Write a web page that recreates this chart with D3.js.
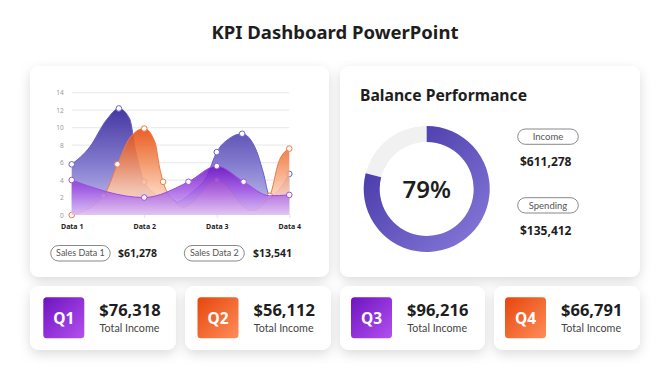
<!DOCTYPE html>
<html><head><meta charset="utf-8">
<script src="https://cdn.jsdelivr.net/npm/d3@7"></script>
<style>
html,body{margin:0;padding:0;background:#fff;}
svg{display:block;font-family:"Noto Sans","Open Sans",sans-serif;}
</style></head>
<body><svg id="c" width="670" height="376"></svg>
<script>
// ---- data ----
const title = "KPI Dashboard PowerPoint";
const categories = ["Data 1", "Data 2", "Data 3", "Data 4"];
const yTicks = [0, 2, 4, 6, 8, 10, 12, 14];
// series positions are in category units (0 = Data 1 ... 3 = Data 4)
const series1X = [0, 0.25, 0.48, 0.65, 0.8, 0.88, 1.0, 1.17, 1.4, 1.7, 1.86, 2.0, 2.18, 2.35, 2.54, 2.64, 2.73, 3.0];
const series1Y = [5.8, 7.8, 10.9, 12.2, 11.0, 7.4, 3.8, 2.3, 1.4, 2.9, 4.4, 7.2, 8.8, 9.3, 7.5, 4.9, 2.2, 4.7];
const series1Marks = [0, 3, 6, 8, 11, 13, 17];
const series2X = [0, 0.44, 0.63, 0.8, 1.0, 1.15, 1.21, 1.26, 1.4, 1.54, 2.0, 2.48, 2.73, 2.86, 3.0];
const series2Y = [0, 2.2, 5.8, 8.8, 9.9, 8.3, 5.5, 3.8, 1.7, 0.9, 4.0, 0.5, 2.2, 6.2, 7.6];
const series2Marks = [0, 1, 2, 4, 7, 10, 12, 14];
const series3X = [0, 1.0, 1.61, 2.0, 2.37, 2.73, 3.0];
const series3Y = [4.0, 2.0, 3.8, 5.6, 3.8, 2.2, 2.3];
const series3Marks = [0, 1, 2, 3, 4, 6];
const legendLabels = ["Sales Data 1", "Sales Data 2"];
const legendValues = ["$61,278", "$13,541"];
const balanceTitle = "Balance Performance";
const balancePct = 79;
const balanceLabels = ["Income", "Spending"];
const balanceValues = ["$611,278", "$135,412"];
const quarters = ["Q1", "Q2", "Q3", "Q4"];
const quarterValues = ["$76,318", "$56,112", "$96,216", "$66,791"];
const quarterCaption = "Total Income";

// ---- drawing ----
const svg = d3.select("#c");
const defs = svg.append("defs");

const f = defs.append("filter").attr("id", "sh").attr("x", "-20%").attr("y", "-20%").attr("width", "140%").attr("height", "150%");
f.append("feDropShadow").attr("dx", 0).attr("dy", 4).attr("stdDeviation", 6)
  .attr("flood-color", "#000").attr("flood-opacity", 0.14);

function lin(id, x1, y1, x2, y2, stops, units) {
  const g = defs.append("linearGradient").attr("id", id)
    .attr("x1", x1).attr("y1", y1).attr("x2", x2).attr("y2", y2);
  if (units) g.attr("gradientUnits", units);
  stops.forEach(s => g.append("stop").attr("offset", s[0]).attr("stop-color", s[1]).attr("stop-opacity", s[2] == null ? 1 : s[2]));
}

svg.append("text").attr("x", 335).attr("y", 39).attr("text-anchor", "middle")
  .attr("font-size", 18.5).attr("font-weight", 700).attr("fill", "#1e1e1e").text(title);

// cards
const cards = [[30, 66, 299, 211], [340, 66, 300, 211], [30, 286, 146, 64], [185, 286, 146, 64], [340, 286, 145, 64], [494, 286, 146, 64]];
svg.append("g").selectAll("rect").data(cards).join("rect")
  .attr("x", d => d[0]).attr("y", d => d[1]).attr("width", d => d[2]).attr("height", d => d[3])
  .attr("rx", 9).attr("fill", "#fff").attr("filter", "url(#sh)");

// ---- area chart ----
const x = d3.scaleLinear().domain([0, 3]).range([71.7, 289.3]);
const y = d3.scaleLinear().domain([0, 14]).range([215, 92.7]);

const gy = svg.append("g").attr("transform", `translate(${x(0)},0)`)
  .call(d3.axisLeft(y).tickValues(yTicks).tickSize(0).tickPadding(8));
gy.select(".domain").remove();
gy.selectAll("text").attr("font-size", 6.5).attr("fill", "#9a9a9a").attr("font-family", "Noto Sans");

svg.append("g").selectAll("line").data(yTicks.filter(v => v > 0)).join("line")
  .attr("x1", x(0)).attr("x2", x(3)).attr("y1", d => y(d)).attr("y2", d => y(d))
  .attr("stroke", "#ececec").attr("stroke-width", 1.2);

const gx = svg.append("g").attr("transform", `translate(0,${y(0)})`)
  .call(d3.axisBottom(x).tickValues([0, 1, 2, 3]).tickFormat(i => categories[i]).tickSize(3).tickPadding(6));
gx.select(".domain").remove();
gx.selectAll("line").attr("stroke", "#e2e2e2");
gx.selectAll("text").attr("font-size", 7).attr("font-weight", 700).attr("fill", "#222").attr("font-family", "Noto Sans");

lin("gBlue", 0, y(12.2), 0, y(0), [[0, "#3b2c9c"], [0.55, "#8179cf"], [1, "#c9c5ee"]], "userSpaceOnUse");
lin("gOrange", 0, y(9.9), 0, y(0), [[0, "#e8480a"], [0.35, "#f0844f"], [0.7, "#fbc5a6"], [1, "#fde8dc"]], "userSpaceOnUse");
lin("gPurple", 0, y(5.6), 0, y(0), [[0, "#6e12c2"], [0.5, "#a55ae5"], [1, "#ddc0f6"]], "userSpaceOnUse");

const specs = [
  { xs: series1X, ys: series1Y, marks: series1Marks, fill: "url(#gBlue)", line: "#6b5fd0", op: 0.95 },
  { xs: series2X, ys: series2Y, marks: series2Marks, fill: "url(#gOrange)", line: "#f07a45", op: 0.88 },
  { xs: series3X, ys: series3Y, marks: series3Marks, fill: "url(#gPurple)", line: "#9a4fe0", op: 0.86 }
];
const area = d3.area().curve(d3.curveMonotoneX).x(d => x(d[0])).y0(y(0)).y1(d => y(d[1]));
const line = d3.line().curve(d3.curveMonotoneX).x(d => x(d[0])).y(d => y(d[1]));
const chart = svg.append("g");
specs.forEach(s => {
  const pts = s.xs.map((v, i) => [v, s.ys[i]]);
  const g = chart.append("g");
  g.append("path").attr("d", area(pts)).attr("fill", s.fill).attr("opacity", s.op);
  g.append("path").attr("d", line(pts)).attr("fill", "none").attr("stroke", s.line).attr("stroke-width", 1);
  g.selectAll("circle").data(s.marks.map(i => pts[i])).join("circle")
    .attr("cx", d => x(d[0])).attr("cy", d => y(d[1])).attr("r", 2.8)
    .attr("fill", "#fff").attr("stroke", s.line).attr("stroke-width", 1);
});

// legend
const legX = [[50.7, 59.5, 118], [184.3, 60, 253]];
legendLabels.forEach((t, i) => {
  const L = legX[i];
  svg.append("rect").attr("x", L[0]).attr("y", 245.5).attr("width", L[1]).attr("height", 15.5)
    .attr("rx", 7.75).attr("fill", "#fff").attr("stroke", "#7a7a7a").attr("stroke-width", 0.9);
  svg.append("text").attr("x", L[0] + L[1] / 2).attr("y", 256.3).attr("text-anchor", "middle")
    .attr("font-family", "Lato").attr("font-size", 9).attr("fill", "#555").text(t);
  svg.append("text").attr("x", L[2]).attr("y", 257).attr("font-size", 10.5).attr("font-weight", 700)
    .attr("fill", "#1e1e1e").text(legendValues[i]);
});

// ---- balance ----
svg.append("text").attr("x", 360).attr("y", 101).attr("font-size", 15.7).attr("font-weight", 700)
  .attr("fill", "#1e1e1e").text(balanceTitle);
const cx = 426.7, cy = 189, R = 63, r = 47;
lin("gRing", 0, 0, 1, 1, [[0, "#3d2ea0"], [1, "#8a7ddc"]]);
const arc = d3.arc().innerRadius(r).outerRadius(R);
const dg = svg.append("g").attr("transform", `translate(${cx},${cy})`);
dg.append("path").attr("d", arc({ startAngle: 0, endAngle: 2 * Math.PI })).attr("fill", "#f1f1f1");
dg.append("path").attr("d", arc({ startAngle: 0, endAngle: 2 * Math.PI * balancePct / 100 })).attr("fill", "url(#gRing)");
dg.append("text").attr("y", 9).attr("text-anchor", "middle").attr("font-size", 24).attr("font-weight", 600)
  .attr("fill", "#1e1e1e").text(balancePct + "%");

const pillY = [129, 197.7], valY = [166, 234.5];
balanceLabels.forEach((t, i) => {
  svg.append("rect").attr("x", 517.7).attr("y", pillY[i]).attr("width", 60.6).attr("height", 15.3)
    .attr("rx", 7.6).attr("fill", "#fff").attr("stroke", "#7a7a7a").attr("stroke-width", 0.9);
  svg.append("text").attr("x", 548).attr("y", pillY[i] + 10.9).attr("text-anchor", "middle")
    .attr("font-family", "Lato").attr("font-size", 9.5).attr("fill", "#555").text(t);
  svg.append("text").attr("x", 520).attr("y", valY[i]).attr("font-size", 12).attr("font-weight", 700)
    .attr("fill", "#1e1e1e").text(balanceValues[i]);
});

// ---- quarter cards ----
lin("gQp", 0, 0, 1, 1, [[0, "#6e14c0"], [1, "#b350ef"]]);
lin("gQo", 0, 0, 1, 1, [[0, "#e6460c"], [1, "#ff8d5a"]]);
const qx = [43.3, 197.5, 351, 505];
quarters.forEach((q, i) => {
  const g = svg.append("g").attr("transform", `translate(${qx[i]},297.3)`);
  g.append("rect").attr("width", 41).attr("height", 41).attr("rx", 3.5)
    .attr("fill", i % 2 === 0 ? "url(#gQp)" : "url(#gQo)");
  g.append("text").attr("x", 20.5).attr("y", 26.5).attr("text-anchor", "middle")
    .attr("font-size", 15.5).attr("font-weight", 700).attr("fill", "#fff").text(q);
  g.append("text").attr("x", 56).attr("y", 18.5).attr("font-size", 16.5).attr("font-weight", 700)
    .attr("fill", "#1e1e1e").text(quarterValues[i]);
  g.append("text").attr("x", 56.3).attr("y", 34.5).attr("font-family", "Lato").attr("font-size", 10.7)
    .attr("fill", "#444").text(quarterCaption);
});
</script></body></html>
